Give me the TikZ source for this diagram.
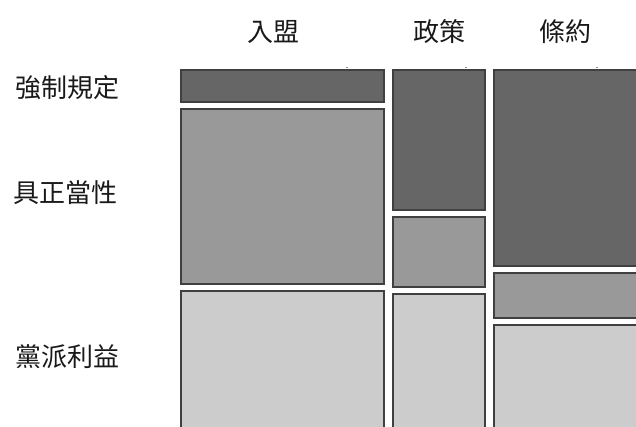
\documentclass[tikz,border=0pt]{standalone}
\usepackage{fontspec}
\newfontfamily\cjk{Noto Sans CJK TC}
\begin{document}
\begin{tikzpicture}[x=1pt,y=-1pt,
  cell/.style={draw=black!75,line width=1.1pt},
  dk/.style={cell,fill=black!60},
  md/.style={cell,fill=black!40},
  lt/.style={cell,fill=black!20},
  lab/.style={font=\cjk\fontsize{26}{26}\selectfont,text=black!90,inner sep=0pt},
  tick/.style={draw=black!45,line width=1pt}]
\useasboundingbox (0,0) rectangle (636,427);
\clip (0,0) rectangle (636,427);
% column 1: 入盟
\draw[dk] (181,70) rectangle (384,102);
\draw[md] (181,109) rectangle (384,284);
\draw[lt] (181,291) rectangle (384,440);
% column 2: 政策
\draw[dk] (393,70) rectangle (485,210);
\draw[md] (393,217) rectangle (485,287);
\draw[lt] (393,294) rectangle (485,440);
% column 3: 條約
\draw[dk] (494,70) rectangle (650,266);
\draw[md] (494,273) rectangle (650,318);
\draw[lt] (494,325) rectangle (650,440);
% small marks
\draw[tick] (346,67.5) -- (348,67.5);
\draw[tick] (465,67.5) -- (467,67.5);
\draw[tick] (596,67.5) -- (598,67.5);
% labels
\node[lab] (c1) at (273,32) {入盟};
\node[lab] (c2) at (439,32) {政策};
\node[lab] (c3) at (565,32) {條約};
\node[lab] (r1) at (67,88) {強制規定};
\node[lab] (r2) at (65,193) {具正當性};
\node[lab] (r3) at (67,357) {黨派利益};
\end{tikzpicture}
\end{document}
